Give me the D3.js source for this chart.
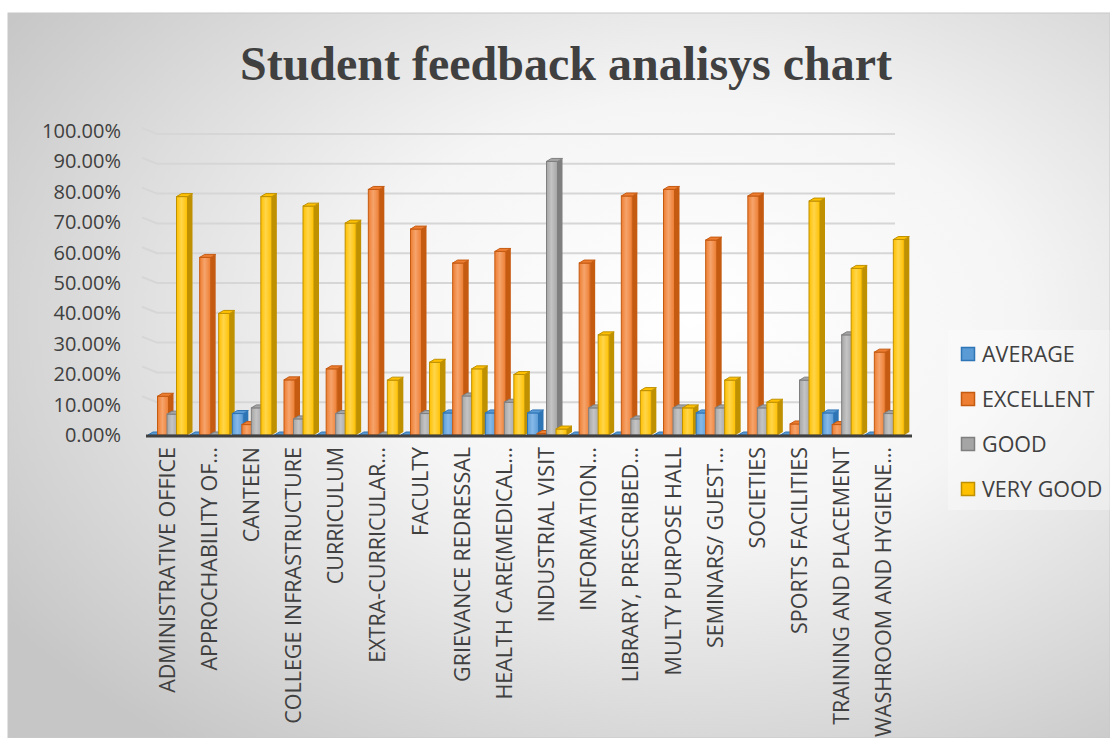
<!DOCTYPE html>
<html>
<head>
<meta charset="utf-8">
<title>Student feedback analisys chart</title>
<script src="https://d3js.org/d3.v7.min.js"></script>
<style>
  body { margin: 0; background: #fff; }
  text { font-family: "Open Sans", sans-serif; }
</style>
</head>
<body>
<script>
var width = 1110;
var height = 738;

// data
var categories = ["ADMINISTRATIVE OFFICE", "APPROCHABILITY OF…", "CANTEEN", "COLLEGE INFRASTRUCTURE",
  "CURRICULUM", "EXTRA-CURRICULAR…", "FACULTY", "GRIEVANCE REDRESSAL", "HEALTH CARE(MEDICAL…",
  "INDUSTRIAL VISIT", "INFORMATION…", "LIBRARY, PRESCRIBED…", "MULTY PURPOSE HALL", "SEMINARS/ GUEST…",
  "SOCIETIES", "SPORTS FACILITIES", "TRAINING AND PLACEMENT", "WASHROOM AND HYGIENE…"];
var seriesNames = ["AVERAGE", "EXCELLENT", "GOOD", "VERY GOOD"];
var average   = [0, 0, 7.2, 0, 0, 0, 0, 7.4, 7.4, 7.4, 0, 0, 0, 7.4, 0, 0, 7.4, 0];
var excellent = [13, 59.6, 3.5, 18.5, 22.2, 82.4, 69.1, 57.7, 61.6, 0.5, 57.7, 80.2, 82.4, 65.4, 80.2, 3.7, 3.5, 27.8];
var good      = [7, 0, 9.1, 5.4, 7.2, 0, 7.2, 13.1, 11, 91.8, 9.1, 5.4, 9.1, 9.1, 9.1, 18.4, 33.6, 7.2];
var veryGood  = [80, 40.8, 80, 76.8, 71.1, 18.4, 24.4, 22.2, 20.3, 2, 33.6, 14.9, 9.1, 18.4, 11, 78.5, 55.9, 65.6];
var yTicks = [0, 10, 20, 30, 40, 50, 60, 70, 80, 90, 100];

var seriesValues = [average, excellent, good, veryGood];
var colors = [
  { base: "#5b9bd5", light: "#86b9e8", dark: "#2e75b6" },
  { base: "#ed7d31", light: "#f6a46c", dark: "#c55a11" },
  { base: "#a5a5a5", light: "#c4c4c4", dark: "#7f7f7f" },
  { base: "#ffc000", light: "#ffd54a", dark: "#bf9000" }
];

var svg = d3.select("body").append("svg").attr("width", width).attr("height", height);
var defs = svg.append("defs");

// background gradient
var bg = defs.append("radialGradient").attr("id", "bg")
  .attr("cx", "62%").attr("cy", "42%").attr("r", "75%");
bg.append("stop").attr("offset", "0%").attr("stop-color", "#ffffff");
bg.append("stop").attr("offset", "40%").attr("stop-color", "#f5f5f5");
bg.append("stop").attr("offset", "100%").attr("stop-color", "#c6c6c6");

colors.forEach(function (c, i) {
  var g = defs.append("linearGradient").attr("id", "front" + i)
    .attr("x1", "0%").attr("x2", "100%").attr("y1", "0%").attr("y2", "0%");
  g.append("stop").attr("offset", "0%").attr("stop-color", c.base);
  g.append("stop").attr("offset", "45%").attr("stop-color", c.light);
  g.append("stop").attr("offset", "100%").attr("stop-color", c.base);
});

svg.append("rect").attr("x", 8).attr("y", 13).attr("width", width - 8).attr("height", height - 13)
  .attr("fill", "url(#bg)").attr("stroke", "#c8c8c8");

// title
svg.append("text")
  .attr("x", 566).attr("y", 80)
  .attr("text-anchor", "middle")
  .style("font-family", "'Liberation Serif', 'Times New Roman', serif")
  .attr("font-size", "48px").attr("font-weight", "bold")
  .attr("fill", "#404040")
  .text("Student feedback analisys chart");

// scales
var x = d3.scaleBand().domain(categories).range([146, 905]);
var yLabel = d3.scaleLinear().domain([0, 100]).range([435, 131]);
var yBack = d3.scaleLinear().domain([0, 100]).range([432, 134]);

// gridlines (back wall)
svg.append("g").selectAll("path")
  .data(yTicks.filter(function (d) { return d > 0; }))
  .enter().append("path")
  .attr("d", function (d) {
    var yy = yBack(d);
    return "M142," + (yy - 6) + "L157," + yy + "L895," + yy;
  })
  .attr("fill", "none").attr("stroke", "#d6d6d6").attr("stroke-width", 2);

// y axis labels
var yAxis = d3.axisLeft(yLabel).tickValues(yTicks).tickSize(0).tickPadding(0)
  .tickFormat(function (d) { return d3.format(".2f")(d) + "%"; });
var gy = svg.append("g").attr("transform", "translate(121,0)").call(yAxis);
gy.select(".domain").remove();
gy.selectAll("text").attr("font-size", "20px").attr("fill", "#404040")
  .style("font-family", "'Open Sans', sans-serif");

// bars
var frontW = 11, depthX = 5, depthY = 3, subStep = 9.5;
var baseY = 435;
var barData = [];
categories.forEach(function (c, ci) {
  seriesValues.forEach(function (vals, si) {
    barData.push({ cat: c, s: si, v: vals[ci] });
  });
});

var bars = svg.append("g").selectAll("g").data(barData).enter().append("g");
bars.each(function (d) {
  var g = d3.select(this);
  var x0 = x(d.cat) + 2 + d.s * subStep;
  var top = yBack(d.v) + depthY;
  var col = colors[d.s];
  // side face
  g.append("path")
    .attr("d", "M" + (x0 + frontW) + "," + top + "L" + (x0 + frontW + depthX) + "," + (top - depthY) +
      "L" + (x0 + frontW + depthX) + "," + (baseY - depthY) + "L" + (x0 + frontW) + "," + baseY + "Z")
    .attr("fill", col.dark);
  // front face
  g.append("rect")
    .attr("x", x0).attr("y", top)
    .attr("width", frontW).attr("height", Math.max(0, baseY - top))
    .attr("fill", "url(#front" + d.s + ")")
    .attr("stroke", col.dark).attr("stroke-width", 1);
  // top cap
  g.append("path")
    .attr("d", "M" + x0 + "," + top + "L" + (x0 + depthX) + "," + (top - depthY) +
      "L" + (x0 + frontW + depthX) + "," + (top - depthY) + "L" + (x0 + frontW) + "," + top + "Z")
    .attr("fill", col.base).attr("stroke", col.dark).attr("stroke-width", 1);
});

// base line
svg.append("line").attr("x1", 146).attr("x2", 912).attr("y1", 436).attr("y2", 436)
  .attr("stroke", "#404040").attr("stroke-width", 3);

// x labels
var xAxis = d3.axisBottom(x).tickSize(0).tickPadding(0);
var gx = svg.append("g").attr("transform", "translate(0,447)").call(xAxis);
gx.select(".domain").remove();
gx.selectAll("text")
  .attr("transform", "rotate(-90)")
  .attr("x", 0).attr("y", 0).attr("dy", "0.35em")
  .attr("text-anchor", "end")
  .attr("font-size", "21.5px").attr("fill", "#404040")
  .style("font-family", "'Open Sans', sans-serif");
gx.selectAll(".tick").attr("transform", function (d) {
  return "translate(" + (x(d) + 21) + ",0)";
});

// legend
var legend = svg.append("g");
legend.append("rect").attr("x", 948).attr("y", 330).attr("width", 162).attr("height", 180)
  .attr("fill", "#ffffff").attr("opacity", 0.3);
var items = legend.selectAll("g.item").data(seriesNames).enter().append("g")
  .attr("transform", function (d, i) { return "translate(961," + (347 + i * 45) + ")"; });
items.append("rect").attr("x", 0.5).attr("y", 0.5).attr("width", 13).attr("height", 13)
  .attr("fill", function (d, i) { return colors[i].base; })
  .attr("stroke", function (d, i) { return colors[i].dark; }).attr("stroke-width", 1.5);
items.append("text").attr("x", 21).attr("y", 7).attr("dy", "0.35em")
  .attr("font-size", "21.5px").attr("fill", "#404040")
  .text(function (d) { return d; });
</script>
</body>
</html>
